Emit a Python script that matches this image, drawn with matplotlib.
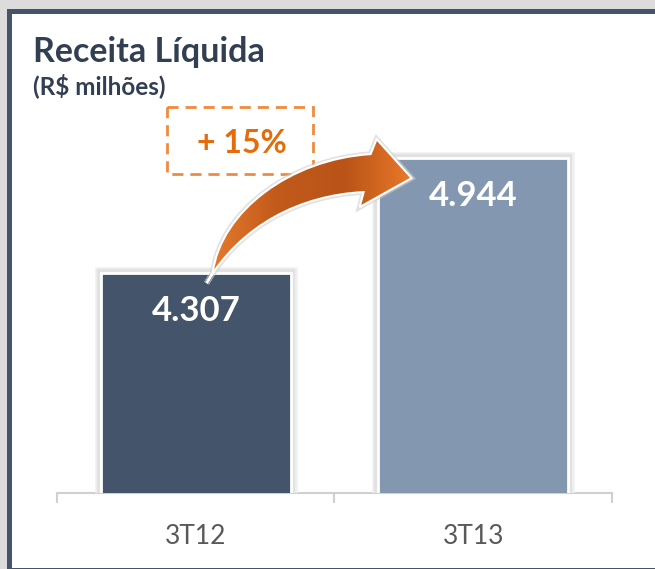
import matplotlib.pyplot as plt
import numpy as np
from matplotlib.patches import Rectangle, PathPatch
from matplotlib.path import Path
from matplotlib.colors import LinearSegmentedColormap
import matplotlib.patheffects as pe

plt.rcParams['font.family'] = ['Lato', 'DejaVu Sans']

# data
categories = ["3T12", "3T13"]
values = [4307, 4944]
value_labels = ["4.307", "4.944"]
bar_colors = ["#44546A", "#8497B0"]
growth_label = "+ 15%"

W, H = 655, 569
fig = plt.figure(figsize=(W / 100, H / 100), dpi=100)
fig.patch.set_facecolor("#dcdcdc")

# panel frame
fig.add_artist(Rectangle((8.5 / W, -0.5 / H), (W + 10) / W, (H - 10.5) / H,
                         transform=fig.transFigure, facecolor="white",
                         edgecolor="#44546A", linewidth=3.6, zorder=0))

ax = fig.add_axes([57 / W, 76 / H, 555 / W, 393 / H])
ax.set_facecolor("none")
x = np.arange(len(categories))
bars = ax.bar(x, values, width=0.685, color=bar_colors, edgecolor="white",
              linewidth=2, zorder=3)
for b in bars:
    b.set_path_effects([pe.Stroke(linewidth=9, foreground="#f0f0f0"),
                        pe.Stroke(linewidth=6, foreground="#e2e2e2"), pe.Normal()])

ax.set_xlim(-0.5, 1.5)
ax.set_ylim(3090, 5265)
for s in ["top", "left", "right"]:
    ax.spines[s].set_visible(False)
ax.spines["bottom"].set_color("#d0d0d0")
ax.spines["bottom"].set_linewidth(1.5)
ax.set_yticks([])
ax.set_xticks([-0.5, 0.5, 1.5])
ax.set_xticklabels([])
ax.tick_params(axis="x", which="major", length=7.5, width=1.5, color="#d0d0d0")
ax.set_xticks(x, minor=True)
ax.set_xticklabels(categories, minor=True)
ax.tick_params(axis="x", which="minor", length=0, pad=22, labelsize=19,
               labelcolor="#595959")

for xi, v, lab in zip(x, values, value_labels):
    ax.annotate(lab, (xi, v), xytext=(0, -27), textcoords="offset points",
                ha="center", va="center", color="white", fontsize=25,
                fontweight="bold", zorder=5)

# title
fig.text(33 / W, 1 - 62 / H, "Receita Líquida", fontsize=24.5, fontweight="bold",
         color="#323F52", va="baseline")
fig.text(33 / W, 1 - 94 / H, "(R$ milhões)", fontsize=17.5, fontweight="bold",
         color="#323F52", va="baseline")

# overlay in pixel units for annotation shapes
ov = fig.add_axes([0, 0, 1, 1])
ov.set_xlim(0, W)
ov.set_ylim(H, 0)
ov.axis("off")
ov.patch.set_alpha(0)

# growth box
ov.add_patch(Rectangle((167, 107), 146, 67, fill=False, edgecolor="#F08A3E",
                       linewidth=2, linestyle=(0, (4, 2.5))))
ov.text(242, 143, growth_label, ha="center", va="center", fontsize=23,
        fontweight="bold", color="#E46C0A")

# curved arrow starting at top of first bar
tx, ty = ov.transData.inverted().transform(ax.transData.transform((0.05, values[0])))
pts = [(-3, 10), (3, 0),
       (11, -62), (81, -114), (161, -119),
       (167, -134), (202, -95), (150, -66), (154, -81),
       (91, -78), (31, -48), (-3, 10)]
codes = [Path.MOVETO, Path.LINETO,
         Path.CURVE4, Path.CURVE4, Path.CURVE4,
         Path.LINETO, Path.LINETO, Path.LINETO, Path.LINETO,
         Path.CURVE4, Path.CURVE4, Path.CURVE4]
verts = [(tx + dx, ty + dy) for dx, dy in pts]
arrow_path = Path(verts, codes)
ov.add_patch(PathPatch(arrow_path, facecolor="none", edgecolor="#cfcfcf",
                       linewidth=4, alpha=0.6, zorder=4))
patch = PathPatch(arrow_path, facecolor="none", edgecolor="white",
                  linewidth=1.5, zorder=6)
ov.add_patch(patch)
cmap = LinearSegmentedColormap.from_list("arr", ["#E97C2E", "#C25A1B", "#B95318", "#EB7A2A"])
xs = [p[0] for p in verts]
ys = [p[1] for p in verts]
grad = np.linspace(0, 1, 256).reshape(1, -1)
im = ov.imshow(grad, cmap=cmap, extent=(min(xs), max(xs), max(ys), min(ys)),
               aspect="auto", zorder=5)
im.set_clip_path(patch)
ov.set_xlim(0, W)
ov.set_ylim(H, 0)

fig.savefig("out.png", dpi=100, facecolor=fig.get_facecolor())
